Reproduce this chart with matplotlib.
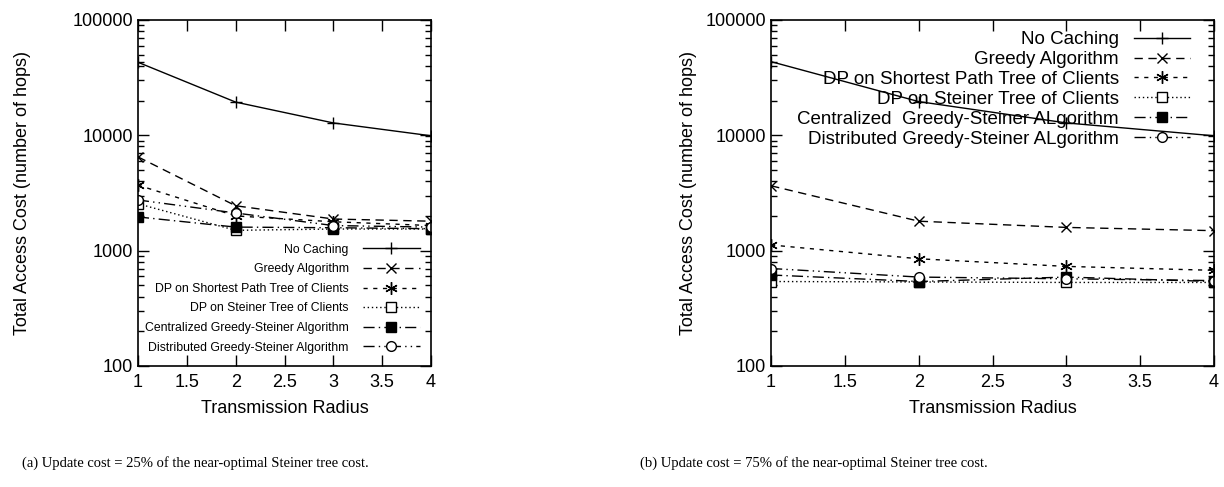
import matplotlib
matplotlib.use("Agg")
import matplotlib.pyplot as plt
from matplotlib.ticker import FixedLocator, LogLocator, NullFormatter

radius = [1, 2, 3, 4]

labels_a = ["No Caching", "Greedy Algorithm", "DP on Shortest Path Tree of Clients",
            "DP on Steiner Tree of Clients", "Centralized Greedy-Steiner Algorithm",
            "Distributed Greedy-Steiner Algorithm"]
labels_b = ["No Caching", "Greedy Algorithm", "DP on Shortest Path Tree of Clients",
            "DP on Steiner Tree of Clients", "Centralized  Greedy-Steiner ALgorithm",
            "Distributed Greedy-Steiner ALgorithm"]

# (a) update cost 25%
a_nocache = [43000, 19400, 12800, 9900]
a_greedy = [6500, 2450, 1880, 1800]
a_dpspt = [3700, 2000, 1780, 1650]
a_dpsteiner = [2550, 1500, 1540, 1540]
a_central = [1960, 1600, 1580, 1550]
a_distrib = [2750, 2120, 1650, 1600]

# (b) update cost 75%
b_nocache = [43500, 19600, 12800, 9900]
b_greedy = [3650, 1800, 1590, 1490]
b_dpspt = [1120, 850, 730, 675]
b_dpsteiner = [540, 535, 530, 530]
b_central = [615, 540, 590, 540]
b_distrib = [700, 590, 570, 550]

caption_a = "(a) Update cost = 25% of the near-optimal Steiner tree cost."
caption_b = "(b) Update cost = 75% of the near-optimal Steiner tree cost."

styles = [
    dict(ls="-", marker="+", ms=9, mfc="black"),
    dict(ls=(0, (6, 4)), marker="x", ms=7, mfc="black"),
    dict(ls=(0, (3, 4)), marker=(6, 2, 0), ms=9, mfc="black"),
    dict(ls=(0, (1, 2)), marker="s", ms=7, mfc="white"),
    dict(ls=(0, (8, 3, 1, 3)), marker="s", ms=7, mfc="black"),
    dict(ls=(0, (8, 3, 1, 3, 1, 3)), marker="o", ms=7, mfc="white"),
]

plt.rcParams['font.family'] = ['Liberation Sans', 'DejaVu Sans']

fig = plt.figure(figsize=(12.24, 4.87), dpi=100)
ax1 = fig.add_axes([0.1127, 0.2485, 0.2395, 0.7105])
ax2 = fig.add_axes([0.630, 0.2485, 0.3619, 0.7105])

def draw(ax, series, labels, ylabelpad, legend_kw):
    for vals, lab, st in zip(series, labels, styles):
        ax.plot(radius, vals, color="black", lw=1.0, ls=st["ls"], marker=st["marker"],
                ms=st["ms"], mfc=st["mfc"], mec="black", mew=1.0, label=lab)
    ax.set_yscale("log")
    ax.set_xlim(1, 4)
    ax.set_ylim(100, 100000)
    ax.xaxis.set_major_locator(FixedLocator([1, 1.5, 2, 2.5, 3, 3.5, 4]))
    ax.set_xticklabels(["1", "1.5", "2", "2.5", "3", "3.5", "4"])
    ax.yaxis.set_major_locator(FixedLocator([100, 1000, 10000, 100000]))
    ax.set_yticklabels(["100", "1000", "10000", "100000"])
    ax.yaxis.set_minor_locator(LogLocator(base=10, subs=range(2, 10)))
    ax.yaxis.set_minor_formatter(NullFormatter())
    ax.tick_params(which="both", direction="in", top=True, right=True, labelsize=13)
    ax.tick_params(which="major", length=8, width=1)
    ax.tick_params(which="minor", length=4, width=1)
    ax.tick_params(axis="x", pad=6)
    for s in ax.spines.values():
        s.set_linewidth(1.2)
    ax.set_xlabel("Transmission Radius", fontsize=13, labelpad=6)
    ax.set_ylabel("Total Access Cost (number of hops)", fontsize=13, labelpad=ylabelpad)
    leg = ax.legend(frameon=False, markerfirst=False, alignment="right",
                    borderaxespad=0, borderpad=0, **legend_kw)
    for t in leg.get_texts():
        t.set_ha("right")
    return leg

leg1 = draw(ax1, [a_nocache, a_greedy, a_dpspt, a_dpsteiner, a_central, a_distrib], labels_a, 30,
            dict(loc="lower right", bbox_to_anchor=(0.962, 0.036), fontsize=8.8,
                 handlelength=4.67, handletextpad=1.15, labelspacing=0.62))
leg2 = draw(ax2, [b_nocache, b_greedy, b_dpspt, b_dpsteiner, b_central, b_distrib], labels_b, 6,
            dict(loc="upper right", bbox_to_anchor=(0.946, 0.968), fontsize=13.5,
                 handlelength=3.0, handletextpad=0.8, labelspacing=0.15))

fig.text(0.018, 0.049, caption_a, fontsize=10.5, family="Liberation Serif", ha="left", va="center")
fig.text(0.523, 0.049, caption_b, fontsize=10.5, family="Liberation Serif", ha="left", va="center")

fig.savefig("out.png", dpi=100)
